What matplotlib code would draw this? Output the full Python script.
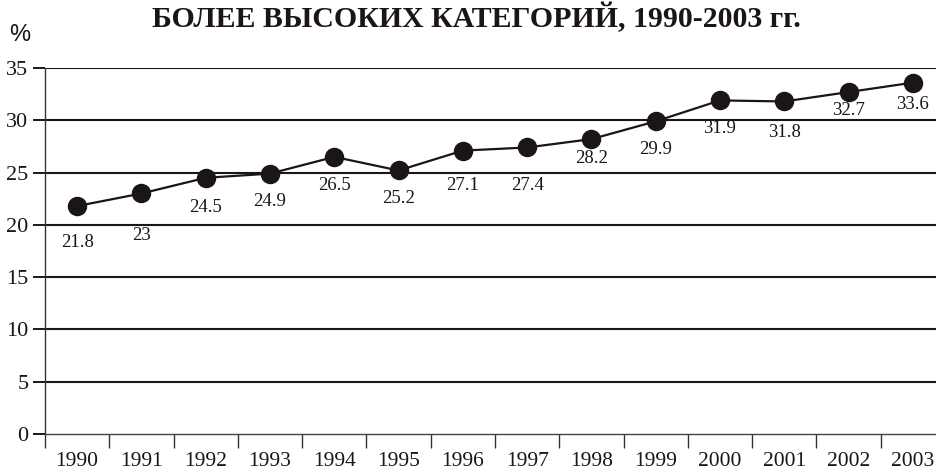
import matplotlib
matplotlib.use("Agg")
import matplotlib.pyplot as plt
from matplotlib.ticker import FixedLocator

years = ["1990", "1991", "1992", "1993", "1994", "1995", "1996",
         "1997", "1998", "1999", "2000", "2001", "2002", "2003"]
values = [21.8, 23, 24.5, 24.9, 26.5, 25.2, 27.1,
          27.4, 28.2, 29.9, 31.9, 31.8, 32.7, 33.6]
value_labels = ["21.8", "23", "24.5", "24.9", "26.5", "25.2", "27.1",
                "27.4", "28.2", "29.9", "31.9", "31.8", "32.7", "33.6"]
y_ticks = [0, 5, 10, 15, 20, 25, 30, 35]
title = "БОЛЕЕ ВЫСОКИХ КАТЕГОРИЙ, 1990-2003 гг."

# label vertical offsets below each point (pixels)
label_dy = [36, 42, 30, 28, 29, 28, 35, 38, 19, 28, 28, 31, 18, 22]

W, H = 936, 474
fig = plt.figure(figsize=(W / 100, H / 100), dpi=100)
ax = fig.add_axes([45 / W, 40 / H, 900 / W, 366 / H])

serif = ["Liberation Serif", "DejaVu Serif"]
ink = "#1c1515"

x = list(range(len(years)))
ax.plot(x, values, color=ink, lw=1.6, marker="o", ms=13,
        markerfacecolor=ink, markeredgecolor=ink, zorder=3, clip_on=False)

for xi, v, lab, dy in zip(x, values, value_labels, label_dy):
    ax.annotate(lab, (xi, v), xytext=(0, -dy * 0.72), textcoords="offset points",
                ha="center", va="center", fontsize=13.5, family=serif, color=ink)

ax.set_xlim(-0.5, len(years) - 0.5)
ax.set_ylim(0, 35)
ax.set_yticks(y_ticks)
ax.set_yticklabels([str(t) for t in y_ticks], family=serif, fontsize=16, color=ink)
ax.set_xticks(x)
ax.set_xticklabels(years, family=serif, fontsize=15.5, color=ink)
ax.xaxis.set_minor_locator(FixedLocator([i - 0.5 for i in range(len(years) + 1)]))
ax.tick_params(axis="x", which="major", length=0, pad=13)
ax.tick_params(axis="x", which="minor", length=10, width=1.0, color="#333333")
ax.tick_params(axis="y", which="major", length=9, width=1.4, color=ink, pad=3)

for t in y_ticks[1:]:
    ax.axhline(t, color=ink, lw=1.5, zorder=1)

for s in ["top", "right"]:
    ax.spines[s].set_visible(False)
ax.spines["left"].set_color("#333333")
ax.spines["left"].set_linewidth(1.0)
ax.spines["bottom"].set_color("#444444")
ax.spines["bottom"].set_linewidth(1.0)

fig.text(476 / W, (H - 27) / H, title, ha="center", va="baseline",
         fontsize=21.5, fontweight="bold", family=serif, color=ink)
fig.text(20 / W, (H - 35) / H, "%", ha="center", va="center",
         fontsize=17, family=["Liberation Sans", "DejaVu Sans"], color=ink)

fig.savefig("out.png", dpi=100)
